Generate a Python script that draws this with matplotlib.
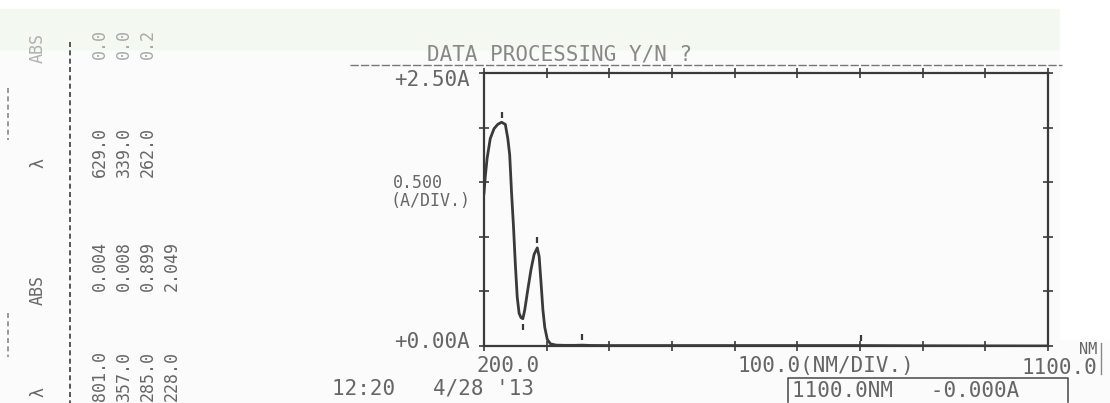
import numpy as np
import matplotlib
matplotlib.use('Agg')
import matplotlib.pyplot as plt
from matplotlib.patches import Rectangle

# spectrum (nm, absorbance)
wavelength = [200, 202, 205, 210, 216, 222, 228, 234, 238, 241, 244, 247, 250, 253,
              256, 259, 262, 265, 270, 275, 280, 285, 288, 291, 294, 297, 301, 306,
              315, 330, 345, 357, 370, 400, 500, 600, 700, 800, 900, 1000, 1100]
absorbance = [1.40, 1.55, 1.72, 1.90, 1.99, 2.03, 2.049, 2.03, 1.90, 1.75, 1.40, 1.10, 0.75, 0.45,
              0.30, 0.26, 0.25, 0.33, 0.52, 0.70, 0.84, 0.899, 0.82, 0.58, 0.33, 0.17, 0.06, 0.02,
              0.008, 0.006, 0.006, 0.008, 0.005, 0.004, 0.004, 0.004, 0.004, 0.004, 0.002, 0.001, 0.0]

# peak / valley table printed at the left
peak_nm = [801.0, 357.0, 285.0, 228.0]
peak_abs = [0.004, 0.008, 0.899, 2.049]
valley_nm = [629.0, 339.0, 262.0]
valley_abs = ['0.0', '0.0', '0.2']

x_ticks = [200, 300, 400, 500, 600, 700, 800, 900, 1000, 1100]
y_ticks = [0.0, 0.5, 1.0, 1.5, 2.0, 2.5]

W, H = 1110, 403
ink = '#3a3a3a'
txt = '#666666'
mono = 'DejaVu Sans Mono'

fig = plt.figure(figsize=(W / 100, H / 100), dpi=100, facecolor='#fafbfa')

# overlay in pixel coordinates for the printed text
ov = fig.add_axes([0, 0, 1, 1])
ov.set_xlim(0, W)
ov.set_ylim(H, 0)
ov.axis('off')
ov.add_patch(Rectangle((0, 0), W, 9, color='white', zorder=0))
ov.add_patch(Rectangle((0, 9), 1060, 40, color='#f3f8f0', zorder=0))
ov.add_patch(Rectangle((1060, 9), 50, 330, color='white', zorder=0))

# left table (printed sideways)
ov.plot([70, 70], [42, 403], color=ink, lw=1.2, ls=(0, (3, 2)))
ov.plot([8, 8], [88, 140], color='#888888', lw=1.2, ls=(0, (3, 2)))
ov.plot([8, 8], [313, 357], color='#888888', lw=1.2, ls=(0, (3, 2)))
ov.text(38, 392, 'λ', rotation=90, ha='center', va='center', fontsize=12, color=txt, family=mono)
ov.text(38, 290, 'ABS', rotation=90, ha='center', va='center', fontsize=12, color=txt, family=mono)
ov.text(38, 163, 'λ', rotation=90, ha='center', va='center', fontsize=12, color=txt, family=mono)
ov.text(38, 48, 'ABS', rotation=90, ha='center', va='center', fontsize=12, color='#b0b0b0', family=mono)
col_x = [100, 124, 148, 172]
for i, (nm, a) in enumerate(zip(peak_nm, peak_abs)):
    ov.text(col_x[i], 376, f'{nm:.1f}', rotation=90, ha='center', va='center', fontsize=12, color=txt, family=mono)
    ov.text(col_x[i], 266, f'{a:.3f}', rotation=90, ha='center', va='center', fontsize=12, color=txt, family=mono)
for i, (nm, a) in enumerate(zip(valley_nm, valley_abs)):
    ov.text(col_x[i], 152, f'{nm:.1f}', rotation=90, ha='center', va='center', fontsize=12, color=txt, family=mono)
    ov.text(col_x[i], 44, a, rotation=90, ha='center', va='center', fontsize=12, color='#a8a8a8', family=mono)

# header and dashed rule
ov.text(427, 54, 'DATA PROCESSING Y/N ?', ha='left', va='center', fontsize=15, color='#888888', family=mono)
ov.plot([350, 1062], [65, 65], color='#777777', lw=1.0, ls=(0, (6, 1.5)))

# y labels
ov.text(470, 80, '+2.50A', ha='right', va='center', fontsize=15, color=txt, family=mono)
ov.text(418, 183, '0.500', ha='center', va='center', fontsize=12, color=txt, family=mono)
ov.text(430, 201, '(A/DIV.)', ha='center', va='center', fontsize=12, color=txt, family=mono)
ov.text(470, 342, '+0.00A', ha='right', va='center', fontsize=15, color=txt, family=mono)

# x labels
ov.text(508, 366, '200.0', ha='center', va='center', fontsize=15, color=txt, family=mono)
ov.text(826, 366, '100.0(NM/DIV.)', ha='center', va='center', fontsize=15, color=txt, family=mono)
ov.text(1097, 368, '1100.0', ha='right', va='center', fontsize=15, color=txt, family=mono)
ov.text(1097, 349, 'NM', ha='right', va='center', fontsize=11, color=txt, family=mono)
ov.plot([1101, 1101], [343, 374], color='#888888', lw=1.0)

# footer
ov.text(332, 389, "12:20   4/28 '13", ha='left', va='center', fontsize=15, color=txt, family=mono)
ov.text(792, 391, '1100.0NM   -0.000A', ha='left', va='center', fontsize=15, color=txt, family=mono)
ov.plot([788, 788, 1068, 1068], [402, 378, 378, 402], color='#555555', lw=1.2)

# the spectrum frame
ax = fig.add_axes([484 / W, 1 - 346 / H, (1048 - 484) / W, (346 - 73) / H])
ax.patch.set_alpha(0)
ax.plot(wavelength, absorbance, color=ink, lw=2.0)
ax.plot(peak_nm, np.array(peak_abs) + 0.07, ls='none', marker='|', ms=4, mew=1.6, color=ink)
ax.plot(valley_nm[-1:], [0.17], ls='none', marker='|', ms=4, mew=1.6, color=ink)
ax.set_xlim(200, 1100)
ax.set_ylim(0, 2.5)
ax.set_xticks(x_ticks)
ax.set_yticks(y_ticks)
ax.tick_params(direction='inout', length=7, width=1.2, color=ink,
               top=True, right=True, labelbottom=False, labelleft=False)
for s in ax.spines.values():
    s.set_color(ink)
    s.set_linewidth(1.6)

fig.savefig('out.png', dpi=100, facecolor=fig.get_facecolor())
